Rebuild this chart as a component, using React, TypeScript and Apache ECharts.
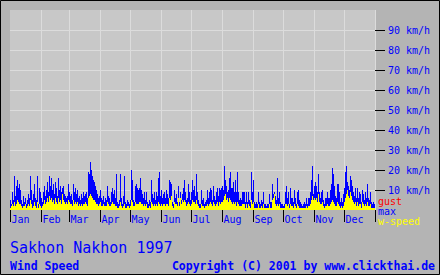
import React, { useEffect, useRef } from "react";
import * as echarts from "echarts";

const monthNames = ["Jan", "Feb", "Mar", "Apr", "May", "Jun", "Jul", "Aug", "Sep", "Oct", "Nov", "Dec"];
const monthStarts = [0, 31, 59, 90, 120, 151, 181, 212, 243, 273, 304, 334];
const yTickValues = [10, 20, 30, 40, 50, 60, 70, 80, 90];

// daily maximum wind speed (km/h), 1997
const maxSpeed = [
  5,3,9,5,17,7,12,15,11,13, 10,5,3,7,4,6,3,5,8,6, 17,10,5,8,13,6,5,17,3,11, 9,6,4,9,12,7,10,14,9,17, 12,16,10,13,8,14,11,7,16,10, 12,9,11,
  12,8,7,6,7,13,9,7,8,5, 13,9,11,8,10,6,7,5,8,6, 9,7,8,9,6,19,18,24,20,17, 15,14,12,10,8,6,7,10,6,5, 7,4,6,5,12,7,6,4,9,11, 8,10,6,
  18,4,3,5,18,6,3,7,17,4, 3,5,4,3,5,20,15,5,4,12, 13,11,10,11,16,10,8,6,9,5, 9,4,3,5,4,15,8,6,9,5, 9,7,16,19,7,10,6,8,9,6, 10,8,6,
  15,14,13,4,3,10,6,8,4,12, 4,9,5,8,11,15,9,5,6,13, 9,5,9,15,10,12,7,18,9,5, 3,3,10,5,6,3,4,5,10,6, 9,11,10,5,12,7,5,9,11,7, 11,10,11,
  12,10,22,15,12,9,10,16,19,11, 11,14,9,15,9,19,9,5,6,5, 9,9,9,4,9,4,9,5,4,19, 9,15,4,3,4,3,9,4,3,5, 4,9,3,3,2,3,3,8,4,4, 13,8,9,
  7,5,16,6,9,4,3,3,2,3, 9,12,6,9,3,11,6,6,4,10, 6,3,9,10,5,4,3,2,3,4, 3,6,3,6,6,9,15,22,8,12, 14,12,9,18,9,6,9,10,5,3, 6,6,9,
  6,6,10,13,21,18,12,7,6,13, 13,9,4,6,4,8,11,19,22,14, 12,10,17,15,12,9,7,11,6,11, 6,9,8,4,10,8,5,9,6,13, 6,5,9,4,3,4,3,
];

// daily average wind speed (km/h), 1997
const windSpeed = [
  1,2,3,2,4,2,3,5,4,3, 3,2,1,2,2,3,1,2,3,2, 5,3,1,2,4,2,1,4,1,3, 2,1,2,3,5,3,4,6,4,7, 5,6,4,5,3,6,4,3,6,4, 5,3,8,
  5,4,3,4,3,5,4,3,3,2, 5,3,4,3,4,2,3,2,3,2, 3,3,4,3,2,6,7,8,7,6, 5,5,4,3,3,2,3,4,2,2, 3,2,2,2,4,3,2,2,3,4, 3,3,2,
  2,1,1,2,4,2,1,2,3,1, 1,2,2,1,2,5,4,2,2,4, 3,3,3,4,4,3,3,2,3,2, 3,1,1,2,1,4,3,2,3,2, 3,2,4,3,2,3,2,3,3,2, 3,3,2,
  6,5,7,2,1,4,3,3,2,6, 2,6,3,5,4,5,4,2,3,4, 3,2,3,5,4,4,3,5,3,2, 1,1,3,2,2,1,2,2,3,2, 3,4,3,2,4,3,2,3,4,2, 4,3,4,
  4,5,7,8,5,6,4,6,5,4, 3,4,3,4,2,4,3,2,2,2, 3,3,3,1,3,1,3,2,1,5, 3,4,1,1,1,1,3,1,1,2, 1,3,1,1,1,1,1,3,1,1, 5,6,8,
  3,2,3,2,3,1,1,1,1,1, 3,3,2,3,1,3,2,2,1,3, 2,1,3,2,1,1,1,1,1,1, 1,2,1,2,2,3,5,7,5,6, 5,6,4,8,4,3,3,4,2,1, 2,2,3,
  2,2,3,4,5,4,3,2,2,4, 3,2,1,2,1,2,4,6,8,10, 7,6,9,7,5,4,3,4,2,4, 2,3,3,1,4,3,2,3,2,4, 2,2,3,1,1,1,1,
];

const gust: number[] = [];

const days = maxSpeed.map((_, i) => String(i));
const isMonthStart = (i: number) => monthStarts.indexOf(i) >= 0;

const FONT = "DejaVu Sans Mono";
const BLUE = "#0000ff";

export default function App() {
  const ref = useRef<HTMLDivElement>(null);
  useEffect(() => {
    document.body.style.margin = "0";
    if (!ref.current) return;
    const chart = echarts.init(ref.current, undefined, { renderer: "svg" });
    chart.setOption({
      animation: false,
      backgroundColor: "#b4b4b4",
      grid: {
        left: 10,
        top: 10,
        width: 365,
        height: 200,
        show: true,
        backgroundColor: "#c8c8c8",
        borderWidth: 0,
      },
      xAxis: {
        type: "category",
        data: days,
        boundaryGap: true,
        axisLine: { show: false },
        axisTick: {
          show: true,
          interval: (i: number) => isMonthStart(i),
          length: 12,
          lineStyle: { color: "#000000", width: 1 },
        },
        axisLabel: {
          interval: (i: number) => isMonthStart(i),
          formatter: (v: string) => monthNames[monthStarts.indexOf(Number(v))] || "",
          align: "left",
          color: BLUE,
          fontFamily: FONT,
          fontSize: 10,
          margin: 4,
          padding: [0, 0, 0, 1],
        },
        splitLine: {
          show: true,
          interval: (i: number) => isMonthStart(i) && i > 0,
          lineStyle: { color: "#dcdcdc", width: 1 },
        },
      },
      yAxis: {
        type: "value",
        position: "right",
        min: 0,
        max: 100,
        interval: 10,
        axisLine: { show: false },
        axisTick: {
          show: true,
          length: 10,
          customValues: yTickValues,
          lineStyle: { color: "#000000", width: 1 },
        },
        axisLabel: {
          customValues: yTickValues,
          formatter: (v: number) => `${v} km/h`,
          color: BLUE,
          fontFamily: FONT,
          fontSize: 10,
          margin: 13,
        },
        splitLine: { show: true, lineStyle: { color: "#dcdcdc", width: 1 } },
      },
      series: [
        {
          name: "gust",
          type: "bar",
          data: gust,
          itemStyle: { color: "#ff0000" },
          barCategoryGap: "0%",
          barGap: "-100%",
          silent: true,
        },
        {
          name: "max",
          type: "bar",
          data: maxSpeed,
          itemStyle: { color: BLUE, borderWidth: 0 },
          barCategoryGap: "0%",
          barGap: "-100%",
          silent: true,
        },
        {
          name: "w-speed",
          type: "bar",
          data: windSpeed,
          itemStyle: { color: "#ffff00", borderWidth: 0 },
          barCategoryGap: "0%",
          barGap: "-100%",
          silent: true,
        },
      ],
      graphic: [
        { type: "text", left: 378, top: 196, style: { text: "gust", fill: "#ff0000", font: `10px "${FONT}"` } },
        { type: "text", left: 378, top: 206, style: { text: "max", fill: BLUE, font: `10px "${FONT}"` } },
        { type: "text", left: 378, top: 216, style: { text: "w-speed", fill: "#ffff00", font: `10px "${FONT}"` } },
        { type: "text", left: 10, top: 240, style: { text: "Sakhon Nakhon 1997", fill: BLUE, font: `15px "${FONT}"` } },
        { type: "text", left: 10, top: 260, style: { text: "Wind Speed", fill: BLUE, font: `bold 11.5px "${FONT}"` } },
        { type: "text", right: 5, top: 260, style: { text: "Copyright (C) 2001 by www.clickthai.de", fill: BLUE, font: `bold 11.5px "${FONT}"` } },
        {
          type: "rect",
          shape: { x: 0.5, y: 0.5, width: 439, height: 274 },
          style: { fill: "none", stroke: "#000000", lineWidth: 1 },
          z: 100,
          silent: true,
        },
      ],
    });
    return () => chart.dispose();
  }, []);
  return <div ref={ref} style={{ width: 440, height: 275 }} />;
}
